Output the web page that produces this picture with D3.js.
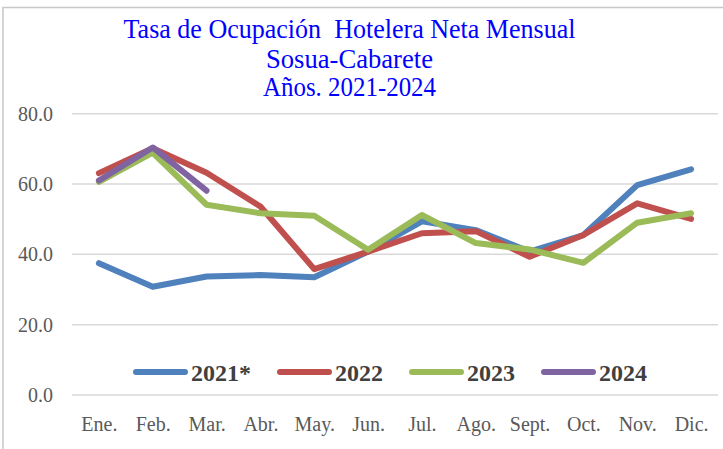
<!DOCTYPE html>
<html>
<head>
<meta charset="utf-8">
<script src="https://cdn.jsdelivr.net/npm/d3@7"></script>
<style>
  body { margin: 0; background: #fff; }
  svg { display: block; }
  svg text { font-family: "Liberation Serif", serif; }
</style>
</head>
<body>
<div id="my_dataviz"></div>
<script>
// data
const months = ["Ene.", "Feb.", "Mar.", "Abr.", "May.", "Jun.", "Jul.", "Ago.", "Sept.", "Oct.", "Nov.", "Dic."];
const years = ["2021*", "2022", "2023", "2024"];
const vals2021 = [37.5, 30.8, 33.7, 34.1, 33.5, 40.8, 49.4, 46.9, 40.8, 45.5, 59.7, 64.2];
const vals2022 = [63.1, 70.2, 63.2, 53.6, 35.8, 40.8, 46.0, 46.6, 39.3, 45.5, 54.5, 50.1];
const vals2023 = [60.6, 68.9, 54.1, 51.7, 51.0, 41.3, 51.2, 43.2, 41.4, 37.6, 49.0, 51.7];
const vals2024 = [61.0, 70.4, 58.1];
const yTicks = [0, 20, 40, 60, 80];
const titleLines = ["Tasa de Ocupación  Hotelera Neta Mensual", "Sosua-Cabarete", "Años. 2021-2024"];

const series = [vals2021, vals2022, vals2023, vals2024];
const colors = ["#4F81BD", "#C0504D", "#9BBB59", "#8064A2"];

const W = 723, H = 449;
const plot = {left: 72, right: 718, top: 113.7, bottom: 395};
const serif = "Liberation Serif";

const svg = d3.select("#my_dataviz")
  .append("svg")
    .attr("width", W)
    .attr("height", H);

// chart frame
svg.append("rect")
  .attr("x", 3).attr("y", 7.5)
  .attr("width", W + 10).attr("height", H + 10)
  .attr("fill", "#fff")
  .attr("stroke", "#C8C8C8")
  .attr("stroke-width", 1.5);

// title (the original font is narrower, so squeeze it)
const titleW = [452, 167, 173];
const titleY = [38, 68, 96];
svg.selectAll(".title")
  .data(titleLines)
  .enter().append("text")
    .attr("class", "title")
    .attr("x", 349.5)
    .attr("y", (d, i) => titleY[i])
    .attr("text-anchor", "middle")
    .attr("textLength", (d, i) => titleW[i])
    .attr("lengthAdjust", "spacingAndGlyphs")
    .attr("font-family", serif)
    .style("white-space", "pre")
    .style("font-size", "26.5px")
    .style("fill", "#0000FF")
    .text(d => d);

const x = d3.scalePoint()
  .domain(months)
  .range([plot.left, plot.right])
  .padding(0.5);

const y = d3.scaleLinear()
  .domain([0, 80])
  .range([plot.bottom, plot.top]);

// gridlines
svg.append("g")
  .selectAll("line")
  .data(yTicks)
  .enter().append("line")
    .attr("x1", plot.left).attr("x2", plot.right)
    .attr("y1", d => y(d)).attr("y2", d => y(d))
    .attr("stroke", "#D9D9D9")
    .attr("stroke-width", 1.5);

// y axis labels
const yAxis = svg.append("g")
  .attr("transform", `translate(${plot.left - 19},0)`)
  .call(d3.axisLeft(y).tickValues(yTicks).tickFormat(d3.format(".1f")).tickSize(0).tickPadding(0))
  .attr("font-family", serif)
  .attr("font-size", 20);
yAxis.select(".domain").remove();
yAxis.selectAll("text")
  .attr("fill", "#595959");

// x axis labels
const xAxis = svg.append("g")
  .attr("transform", `translate(0,${plot.bottom})`)
  .call(d3.axisBottom(x).tickSize(0).tickPadding(22))
  .attr("font-family", serif)
  .attr("font-size", 20);
xAxis.select(".domain").remove();
xAxis.selectAll("text")
  .attr("fill", "#595959");

// lines
const line = d3.line()
  .x((d, i) => x(months[i]))
  .y(d => y(d));

svg.append("g")
  .selectAll("path")
  .data(series)
  .enter().append("path")
    .attr("d", d => line(d))
    .attr("fill", "none")
    .attr("stroke", (d, i) => colors[i])
    .attr("stroke-width", 6)
    .attr("stroke-linecap", "round")
    .attr("stroke-linejoin", "round");

// legend
const legend = svg.append("g");
let lx = 134;
const ly = 372;
years.forEach(function(yr, i) {
  legend.append("line")
    .attr("x1", lx + 2).attr("x2", lx + 51)
    .attr("y1", ly).attr("y2", ly)
    .attr("stroke", colors[i])
    .attr("stroke-width", 6)
    .attr("stroke-linecap", "round");
  const t = legend.append("text")
    .attr("x", lx + 57)
    .attr("y", ly + 8.5)
    .attr("font-family", serif)
    .style("font-size", "24px")
    .style("font-weight", "bold")
    .style("fill", "#404040")
    .text(yr);
  lx = lx + 57 + t.node().getComputedTextLength() + 27;
});
</script>
</body>
</html>
